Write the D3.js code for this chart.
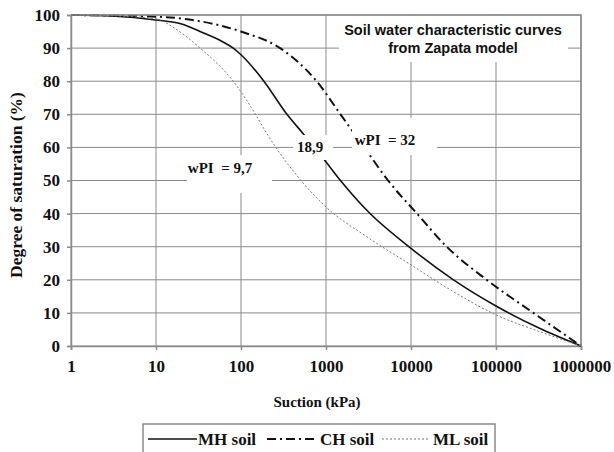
<!DOCTYPE html>
<html>
<head>
<meta charset="utf-8">
<script src="https://cdn.jsdelivr.net/npm/d3@7"></script>
<style>
  body { margin: 0; background: #fff; }
  svg { display: block; }
  text { white-space: pre; }
</style>
</head>
<body>
<svg width="614" height="452"></svg>
<script>
// values (suction in kPa, degree of saturation in %)
var mhSuction = [1, 3, 10, 20, 33, 60, 81, 100, 186, 347, 545, 940, 1480, 3020, 10000, 31600, 100000, 316000, 1000000];
var mhSat = [100, 99.7, 98.5, 97.3, 95, 92, 90, 88, 80, 70, 64, 56.5, 50, 41, 29.5, 20, 12.1, 5.5, 0];
var chSuction = [1, 10, 30, 100, 288, 776, 1480, 2820, 5370, 11750, 26300, 77600, 275000, 1000000];
var chSat = [100, 99.5, 98.3, 95, 90, 80, 70, 60, 50, 40, 30, 20, 10, 0];
var mlSuction = [1, 3, 10, 17.7, 33, 81, 148, 200, 500, 1000, 3020, 10000, 31600, 100000, 330000, 1000000];
var mlSat = [100, 99.8, 98.8, 95.5, 90, 80, 70, 64.3, 50.2, 42, 33, 24.5, 16.4, 9.4, 4.3, 0];
var xTicks = [1, 10, 100, 1000, 10000, 100000, 1000000];
var yTicks = [0, 10, 20, 30, 40, 50, 60, 70, 80, 90, 100];
var seriesNames = ["MH soil", "CH soil", "ML soil"];

var svg = d3.select("svg");
var plotL = 71, plotR = 581, plotT = 15, plotB = 346;
var serif = "'Liberation Serif', 'Times New Roman', serif";
var grey = "#8a8a8a";

var x = d3.scaleLog().domain([1, 1000000]).range([plotL, plotR]);
var y = d3.scaleLinear().domain([0, 100]).range([plotB, plotT]);

// grid
svg.append("g").selectAll("line").data(yTicks).enter().append("line")
  .attr("x1", plotL).attr("x2", plotR)
  .attr("y1", function(d) { return y(d); }).attr("y2", function(d) { return y(d); })
  .attr("stroke", grey).attr("stroke-width", 1);
svg.append("g").selectAll("line").data(xTicks).enter().append("line")
  .attr("x1", function(d) { return x(d); }).attr("x2", function(d) { return x(d); })
  .attr("y1", plotT).attr("y2", plotB)
  .attr("stroke", grey).attr("stroke-width", 1);

// axes
var xAxis = svg.append("g").attr("transform", "translate(0," + plotB + ")")
  .call(d3.axisBottom(x).tickValues(xTicks).tickSize(4).tickPadding(10).tickFormat(d3.format("d")));
var yAxis = svg.append("g").attr("transform", "translate(" + plotL + ",0)")
  .call(d3.axisLeft(y).tickValues(yTicks).tickSize(4).tickPadding(7));
[xAxis, yAxis].forEach(function(a) {
  a.select(".domain").attr("stroke", grey).attr("stroke-width", 1.5);
  a.selectAll(".tick line").attr("stroke", grey).attr("stroke-width", 1.5);
  a.selectAll("text").attr("fill", "#111").style("font-family", serif)
    .style("font-weight", "bold").style("font-size", "17px");
});

// curves
var line = d3.line().curve(d3.curveMonotoneX)
  .x(function(d) { return x(d[0]); }).y(function(d) { return y(d[1]); });
var series = [
  { pts: d3.zip(mhSuction, mhSat), stroke: "#111", width: 1.6, dash: null },
  { pts: d3.zip(chSuction, chSat), stroke: "#111", width: 2, dash: "9,4,2,4" },
  { pts: d3.zip(mlSuction, mlSat), stroke: "#777", width: 1, dash: "2,2" }
];
svg.append("g").selectAll("path").data(series).enter().append("path")
  .attr("d", function(d) { return line(d.pts); })
  .attr("fill", "none")
  .attr("stroke", function(d) { return d.stroke; })
  .attr("stroke-width", function(d) { return d.width; })
  .attr("stroke-dasharray", function(d) { return d.dash; });

// label boxes on top of the plot
var labels = [
  { box: [187, 155, 85, 38], text: "wPI  = 9,7", tx: 220, ty: 173 },
  { box: [293, 135, 40, 25], text: "18,9", tx: 310, ty: 152 },
  { box: [352, 118, 85, 37], text: "wPI  = 32", tx: 385, ty: 145 }
];
labels.forEach(function(l) {
  svg.append("rect").attr("x", l.box[0]).attr("y", l.box[1])
    .attr("width", l.box[2]).attr("height", l.box[3]).attr("fill", "#fff");
  svg.append("text").attr("x", l.tx).attr("y", l.ty).attr("text-anchor", "middle")
    .style("font-family", serif).style("font-weight", "bold").style("font-size", "15px")
    .attr("fill", "#111").text(l.text);
});

// title box
svg.append("rect").attr("x", 339).attr("y", 16).attr("width", 229).attr("height", 46).attr("fill", "#fff");
var title = svg.append("text").attr("text-anchor", "middle")
  .style("font-family", "'Liberation Sans', Arial, sans-serif").style("font-weight", "bold")
  .style("font-size", "14.5px").attr("fill", "#111");
title.append("tspan").attr("x", 453).attr("y", 35).text("Soil water characteristic curves");
title.append("tspan").attr("x", 453).attr("y", 53).text("from Zapata model");

// plot border top/right
svg.append("path").attr("d", "M" + plotL + "," + plotT + "H" + plotR + "V" + plotB)
  .attr("fill", "none").attr("stroke", grey).attr("stroke-width", 1.5);

// axis titles
svg.append("text").attr("x", 317).attr("y", 407).attr("text-anchor", "middle")
  .style("font-family", serif).style("font-weight", "bold").style("font-size", "15px")
  .attr("fill", "#111").text("Suction (kPa)");
svg.append("text").attr("transform", "translate(22,185) rotate(-90)").attr("text-anchor", "middle")
  .style("font-family", serif).style("font-weight", "bold").style("font-size", "17.5px")
  .attr("fill", "#111").text("Degree of saturation (%)");

// legend
svg.append("rect").attr("x", 143).attr("y", 424).attr("width", 352).attr("height", 40)
  .attr("fill", "#fff").attr("stroke", grey).attr("stroke-width", 1.5);
var legendItems = [
  { x0: 148, x1: 197, tx: 198, s: series[0] },
  { x0: 267, x1: 316, tx: 320, s: series[1] },
  { x0: 382, x1: 430, tx: 433, s: series[2] }
];
legendItems.forEach(function(it, i) {
  svg.append("line").attr("x1", it.x0).attr("x2", it.x1).attr("y1", 439).attr("y2", 439)
    .attr("stroke", it.s.stroke).attr("stroke-width", it.s.width)
    .attr("stroke-dasharray", it.s.dash);
  svg.append("text").attr("x", it.tx).attr("y", 445)
    .style("font-family", serif).style("font-weight", "bold").style("font-size", "17px")
    .attr("fill", "#111").text(seriesNames[i]);
});
</script>
</body>
</html>
